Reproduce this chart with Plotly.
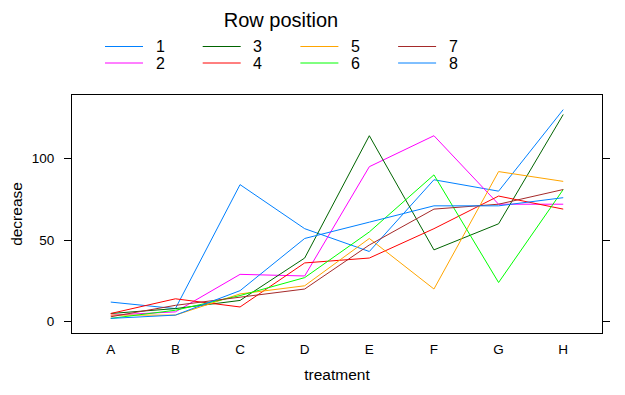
import plotly.graph_objects as go

treatments = ["A", "B", "C", "D", "E", "F", "G", "H"]
row_labels = ["1", "2", "3", "4", "5", "6", "7", "8"]
row1 = [12, 8, 84, 57, 43, 87, 80, 130]
row2 = [4, 6, 29, 28, 95, 114, 72, 72]
row3 = [5, 8, 13, 39, 114, 44, 60, 127]
row4 = [5, 14, 9, 36, 39, 57, 77, 69]
row5 = [4, 4, 17, 22, 51, 20, 92, 86]
row6 = [2, 7, 16, 27, 55, 90, 24, 81]
row7 = [3, 10, 15, 20, 47, 69, 72, 81]
row8 = [2, 4, 19, 51, 61, 71, 71, 76]
rows = [row1, row2, row3, row4, row5, row6, row7, row8]
colors = ["#0080ff", "#ff00ff", "#006400", "#ff0000", "#ffa500", "#00ff00", "#a52a2a", "#0080ff"]
y_ticks = [0, 50, 100]

FONT = "Liberation Sans, Arial, sans-serif"
OFF = 8  # page body margin offset
W, H = 625 - OFF, 395 - OFF
ml, mr, mt, mb = 64, 23, 87, 62
pw, ph = W - ml - mr, H - mt - mb

fig = go.Figure()
for lab, vals, col in zip(row_labels, rows, colors):
    fig.add_trace(go.Scatter(x=treatments, y=vals, mode="lines", name=lab,
                             line=dict(color=col, width=1), showlegend=False))

def px2x(px):
    return (px - OFF - ml) / pw

def py2y(py):
    return (H - mb - (py - OFF)) / ph

# manual key laid out like the lattice key: 4 columns, 2 rows
shapes = []
annotations = []
for i, (lab, col) in enumerate(zip(row_labels, colors)):
    c = i // 2
    r = i % 2
    x0 = 105 + c * 97.7
    yy = 46.5 + r * 16.5
    shapes.append(dict(type="line", xref="paper", yref="paper",
                       x0=px2x(x0), x1=px2x(x0 + 38), y0=py2y(yy), y1=py2y(yy),
                       line=dict(color=col, width=1)))
    annotations.append(dict(text=lab, xref="paper", yref="paper",
                            x=px2x(x0 + 55), y=py2y(yy), xanchor="center", yanchor="middle",
                            showarrow=False, font=dict(family=FONT, size=16, color="black")))

fig.update_layout(
    width=W, height=H,
    margin=dict(l=ml, r=mr, t=mt, b=mb),
    paper_bgcolor="white", plot_bgcolor="white",
    font=dict(family=FONT, color="black"),
    title=dict(text="Row position", x=(281 - OFF) / W, xanchor="center", xref="container",
               y=1 - (20 - OFF) / H, yanchor="middle", yref="container",
               font=dict(family=FONT, size=20, color="black")),
    shapes=shapes, annotations=annotations,
    xaxis=dict(type="category", categoryorder="array", categoryarray=treatments,
               range=[-0.6, 7.6], showgrid=False, zeroline=False, automargin=False,
               showline=True, linecolor="black", linewidth=1, mirror=True,
               ticks="", tickfont=dict(family=FONT, size=13.5, color="black"),
               ticklabelstandoff=4,
               title=dict(text="treatment", font=dict(family=FONT, size=15.5, color="black"), standoff=12)),
    yaxis=dict(range=[-6.96, 138.96], tickvals=y_ticks, ticktext=[str(v) for v in y_ticks],
               showgrid=False, zeroline=False, automargin=False,
               showline=True, linecolor="black", linewidth=1, mirror="ticks",
               ticks="outside", ticklen=7, tickcolor="black", tickwidth=1,
               tickfont=dict(family=FONT, size=13.5, color="black"),
               ticklabelstandoff=7,
               title=dict(text="decrease", font=dict(family=FONT, size=15.5, color="black"), standoff=8)),
)

fig.write_html("out.html")
